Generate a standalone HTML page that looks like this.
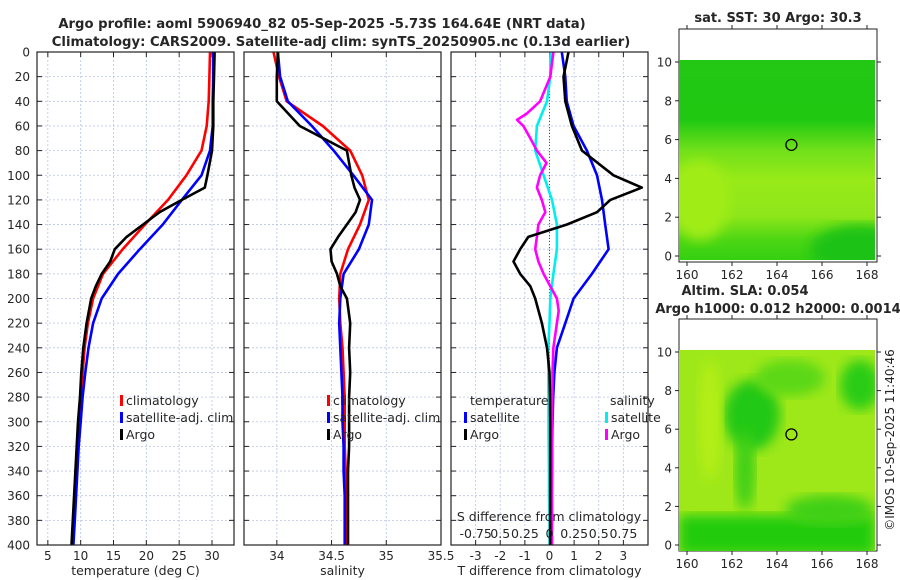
<!DOCTYPE html>
<html><head><meta charset="utf-8"><style>
html,body{margin:0;padding:0;background:#fff;overflow:hidden;}
svg{display:block;font-family:"DejaVu Sans","Liberation Sans",sans-serif;}
</style></head><body>
<svg id="fig" width="900" height="580" viewBox="0 0 900 580" xmlns="http://www.w3.org/2000/svg">
<defs>
<linearGradient id="sstGrad" x1="0" y1="0" x2="0" y2="1">
<stop offset="0" stop-color="#22c814"/><stop offset="0.3" stop-color="#20c812"/>
<stop offset="0.45" stop-color="#70e01a"/><stop offset="0.6" stop-color="#98ea18"/>
<stop offset="0.78" stop-color="#8ee61a"/><stop offset="0.9" stop-color="#4cd614"/>
<stop offset="1" stop-color="#34d012"/></linearGradient>
<filter id="blur"><feGaussianBlur stdDeviation="6"/></filter>
<clipPath id="clipTop"><rect x="679" y="60" width="196" height="200"/></clipPath>
<clipPath id="clipBot"><rect x="679" y="350" width="196" height="201"/></clipPath>
</defs>
<g id="layer"></g>
</svg>
<script>
// ---- data ----
const climDepth=[0,20,40,60,80,100,120,140,160,180,200,220,240,260,280,300,320,340,360,380,400];
const tempClim=[29.7,29.6,29.5,29.2,28.4,26.1,23.3,19.8,16.4,13.4,11.9,11.1,10.6,10.3,10.0,9.8,9.6,9.4,9.2,9.0,8.8];
const tempSat=[30.2,30.2,30.1,30.1,29.7,28.4,25.4,22.5,19.0,15.7,13.2,11.9,11.2,10.7,10.3,10.0,9.7,9.5,9.3,9.1,8.9];
const argoDepth=[0,20,40,60,80,100,110,120,130,140,150,160,170,180,190,200,220,240,260,280,300,320,340,360,380,400];
const tempArgo=[30.4,30.3,30.2,30.2,30.0,29.3,28.9,25.4,22.0,19.5,17.0,15.2,14.5,13.2,12.3,11.6,10.9,10.4,10.1,9.9,9.6,9.4,9.2,9.0,8.8,8.6];
const salClim=[33.97,34.02,34.09,34.42,34.67,34.78,34.84,34.76,34.65,34.58,34.57,34.58,34.60,34.61,34.62,34.62,34.62,34.63,34.63,34.63,34.63];
const salSat=[34.01,34.03,34.10,34.32,34.52,34.70,34.87,34.84,34.75,34.61,34.58,34.57,34.58,34.59,34.60,34.60,34.61,34.61,34.62,34.62,34.62];
const salArgo=[34.01,34.00,34.00,34.21,34.64,34.68,34.71,34.76,34.72,34.64,34.56,34.49,34.50,34.55,34.58,34.64,34.67,34.66,34.67,34.66,34.66,34.66,34.65,34.65,34.65,34.65];
const tDiffSat=[0.5,0.64,0.7,0.98,1.52,1.93,2.13,2.26,2.4,1.72,0.98,0.64,0.3,0.2,0.15,0.12,0.1,0.1,0.08,0.07,0.07];
const tDiffArgo=[0.77,0.57,0.64,0.91,1.32,2.6,3.75,2.47,1.93,0.71,-0.86,-1.19,-1.46,-1.19,-0.78,-0.58,-0.31,-0.1,0.0,0.02,0.03,0.03,0.03,0.03,0.03,0.03];
const sDiffSat=[0.01,0.008,-0.025,-0.128,-0.145,-0.06,0.025,0.075,0.075,0.04,0.008,0,-0.012,-0.012,-0.01,-0.01,-0.008,-0.005,-0.005,0,0];
const sDiffArgoDepth=[0,20,40,50,55,60,70,80,90,100,110,120,130,140,150,160,170,180,190,200,210,220,240,260,300,400];
const sDiffArgo=[0.04,0.008,-0.095,-0.23,-0.33,-0.265,-0.195,-0.128,-0.03,-0.095,-0.128,-0.078,-0.043,-0.113,-0.128,-0.145,-0.113,-0.06,0.008,0.075,0.093,0.075,0.04,0.03,0.025,0.025];
const depthTicks=[0,20,40,60,80,100,120,140,160,180,200,220,240,260,280,300,320,340,360,380,400];
const tempTicks=[5,10,15,20,25,30];
const salTicks=[34,34.5,35,35.5];
const tDiffTicks=[-3,-2,-1,0,1,2,3];
const sDiffTicks=[-0.75,-0.5,-0.25,0,0.25,0.5,0.75];
const sDiffTickLabels=["-0.75","0.5","0.25","0","0.25","0.5","0.75"];
const lonTicks=[160,162,164,166,168];
const latTicks=[0,2,4,6,8,10];
const argoLon=164.64, argoLat=5.73;

// ---- scales ----
const Y0=52,Y1=545;
const yD=d=>Y0+(d/400)*(Y1-Y0);
const panels={t:{x0:37,x1:234,lo:3.35,hi:33.35},s:{x0:244,x1:441,lo:33.70,hi:35.50},d:{x0:451,x1:648,lo:-4,hi:4}};
const xOf=(p,v)=>p.x0+(v-p.lo)/(p.hi-p.lo)*(p.x1-p.x0);
const xS=v=>xOf(panels.d,v*4);
const mapX=lon=>687+(lon-160)*22.5;
const topY=lat=>256-lat*19.4;
const botY=lat=>545-lat*19.3;

const NS="http://www.w3.org/2000/svg";
const layer=document.getElementById('layer');
function mk(tag,attrs,parent){const e=document.createElementNS(NS,tag);for(const k in attrs)e.setAttribute(k,attrs[k]);(parent||layer).appendChild(e);return e;}
function txt(s,x,y,size,anchor,weight,parent){const t=mk('text',{x:x,y:y,'font-size':size,'text-anchor':anchor||'middle','font-weight':weight||'normal',fill:'#262626'},parent);t.textContent=s;return t;}

let e;
e=txt("Argo profile: aoml 5906940_82 05-Sep-2025 -5.73S 164.64E (NRT data)",322,28,13.2,'middle','bold');


e=txt("Climatology: CARS2009. Satellite-adj clim: synTS_20250905.nc (0.13d earlier)",341,46,13.2,'middle','bold');



function panelFrame(p,name,ticks,fmt,xlabel){
  const g=mk('g',{});
  
  
  mk('rect',{x:p.x0,y:Y0,width:p.x1-p.x0,height:Y1-Y0,fill:'#fff'},g);
  depthTicks.forEach(d=>{const l=mk('line',{x1:p.x0,x2:p.x1,y1:yD(d),y2:yD(d),stroke:'#b8c4e8','stroke-width':0.8,'stroke-dasharray':'2,2'},g);
    
    
    mk('line',{x1:p.x0,x2:p.x0+5,y1:yD(d),y2:yD(d),stroke:'#222'},g);
    mk('line',{x1:p.x1-5,x2:p.x1,y1:yD(d),y2:yD(d),stroke:'#222'},g);});
  ticks.forEach(v=>{const x=xOf(p,v);const l=mk('line',{x1:x,x2:x,y1:Y0,y2:Y1,stroke:'#b8c4e8','stroke-width':0.8,'stroke-dasharray':'2,2'},g);
    
    
    mk('line',{x1:x,x2:x,y1:Y1,y2:Y1-5,stroke:'#222'},g);
    mk('line',{x1:x,x2:x,y1:Y0,y2:Y0+5,stroke:'#222'},g);
    const t=txt(fmt(v),x,560,12,'middle','normal',g);
    
    });
  const xl=txt(xlabel,(p.x0+p.x1)/2,575,12.5,'middle','normal',g);
  
  
  return g;
}
function frameBorder(p){const r=mk('rect',{x:p.x0,y:Y0,width:p.x1-p.x0,height:Y1-Y0,fill:'none',stroke:'#222','stroke-width':1.2});
  
  }
function line(xs,ds,fx,color,name){const pts=xs.map((v,i)=>fx(v).toFixed(1)+','+yD(ds[i]).toFixed(1)).join(' ');
  const pl=mk('polyline',{points:pts,fill:'none',stroke:color,'stroke-width':2.6,'stroke-linejoin':'round'});
  
  }
function legendEntry(x,y,color,label,name){const g=mk('g',{});
  
  
  mk('rect',{x:x,y:y-10,width:3,height:11,fill:color},g);txt(label,x+6,y,12.5,'start','normal',g);}

const pT=panels.t;
panelFrame(pT,'temperature',tempTicks,v=>String(v),'temperature (deg C)');
depthTicks.forEach(d=>{const t=txt(String(d),30,yD(d)+4.5,12,'end');
  
  });
line(tempClim,climDepth,v=>xOf(pT,v),'#ff0000','temp-climatology-line');
line(tempSat,climDepth,v=>xOf(pT,v),'#0000ff','temp-satellite-line');
line(tempArgo,argoDepth,v=>xOf(pT,v),'#000000','temp-argo-line');
frameBorder(pT);
legendEntry(120,405,'#ff0000','climatology','legend-climatology');
legendEntry(120,422,'#0000ff','satellite-adj. clim','legend-satellite');
legendEntry(120,439,'#000000','Argo','legend-argo');

const pS=panels.s;
panelFrame(pS,'salinity',salTicks,v=>String(v),'salinity');
line(salClim,climDepth,v=>xOf(pS,v),'#ff0000','sal-climatology-line');
line(salSat,climDepth,v=>xOf(pS,v),'#0000ff','sal-satellite-line');
line(salArgo,argoDepth,v=>xOf(pS,v),'#000000','sal-argo-line');
frameBorder(pS);
legendEntry(327,405,'#ff0000','climatology','legend-sal-climatology');
legendEntry(327,422,'#0000ff','satellite-adj. clim','legend-sal-satellite');
legendEntry(327,439,'#000000','Argo','legend-sal-argo');

const pD=panels.d;
panelFrame(pD,'difference',tDiffTicks,v=>String(v),'T difference from climatology');
e=mk('line',{x1:xOf(pD,0),x2:xOf(pD,0),y1:Y0,y2:Y1,stroke:'#555','stroke-width':1,'stroke-dasharray':'1,2'});


line(tDiffSat,climDepth,v=>xOf(pD,v),'#0000ff','tdiff-satellite-line');
line(sDiffSat,climDepth,xS,'#00eeee','sdiff-satellite-line');
line(sDiffArgo,sDiffArgoDepth,xS,'#ff00ff','sdiff-argo-line');
line(tDiffArgo,argoDepth,v=>xOf(pD,v),'#000000','tdiff-argo-line');
frameBorder(pD);
e=txt('temperature',470,405,12.5,'start');


e=txt('salinity',610,405,12.5,'start');


legendEntry(464,422,'#0000ff','satellite','legend-t-satellite');
legendEntry(464,439,'#000000','Argo','legend-t-argo');
legendEntry(605,422,'#00eeee','satellite','legend-s-satellite');
legendEntry(605,439,'#ff00ff','Argo','legend-s-argo');
e=txt('S difference from climatology',549,521,12.5,'middle');


sDiffTicks.forEach((v,i)=>{const t=txt(sDiffTickLabels[i],xS(v),538,12.5,'middle');
  
  });

function mapFrame(y0,y1,yfn,name,title,titleY){
  const g=mk('g',{});
  
  
  mk('rect',{x:679,y:y0,width:198,height:y1-y0,fill:'#fff',stroke:'#222','stroke-width':1},g);
  lonTicks.forEach(v=>{const x=mapX(v);mk('line',{x1:x,x2:x,y1:y1,y2:y1+4,stroke:'#222'},g);mk('line',{x1:x,x2:x,y1:y0,y2:y0-4,stroke:'#222'},g);
    const t=txt(String(v),x,y1+17,12,'middle','normal',g);
    
    });
  latTicks.forEach(v=>{const y=yfn(v);mk('line',{x1:679,x2:675,y1:y,y2:y,stroke:'#222'},g);mk('line',{x1:877,x2:881,y1:y,y2:y,stroke:'#222'},g);
    const t=txt(String(v),672,y+4.5,12,'end','normal',g);
    
    });
  const tt=txt(title,778,titleY,13,'middle','bold');
  
  
  return g;
}
mapFrame(29,262,topY,'sst-map','sat. SST: 30 Argo: 30.3',22);
const ct=mk('g',{'clip-path':'url(#clipTop)'});
mk('rect',{x:679,y:60,width:196,height:200,fill:'url(#sstGrad)'},ct);
mk('ellipse',{cx:860,cy:250,rx:50,ry:25,fill:'#1ec214',filter:'url(#blur)'},ct);
mk('ellipse',{cx:700,cy:200,rx:30,ry:40,fill:'#a0ec18',filter:'url(#blur)'},ct);
e=mk('circle',{cx:mapX(argoLon),cy:topY(argoLat),r:5.5,fill:'none',stroke:'#000','stroke-width':1.3});


e=txt('Altim. SLA: 0.054',745,295,13,'middle','bold');


mapFrame(319,551,botY,'sla-map','Argo h1000: 0.012 h2000: 0.0014',313);
const cb=mk('g',{'clip-path':'url(#clipBot)'});
mk('rect',{x:679,y:350,width:196,height:201,fill:'#9ee81a'},cb);
mk('rect',{x:679,y:515,width:196,height:40,fill:'#22cc10',filter:'url(#blur)'},cb);
mk('ellipse',{cx:752,cy:415,rx:28,ry:35,fill:'#22c812',filter:'url(#blur)'},cb);
mk('ellipse',{cx:745,cy:470,rx:10,ry:40,fill:'#3ccf12',filter:'url(#blur)'},cb);
mk('ellipse',{cx:860,cy:385,rx:20,ry:25,fill:'#2ccc12',filter:'url(#blur)'},cb);
mk('ellipse',{cx:790,cy:378,rx:35,ry:18,fill:'#5cd816',filter:'url(#blur)'},cb);
mk('ellipse',{cx:710,cy:420,rx:12,ry:60,fill:'#b4ee18',filter:'url(#blur)'},cb);
mk('ellipse',{cx:830,cy:510,rx:45,ry:15,fill:'#40d014',filter:'url(#blur)'},cb);
e=mk('circle',{cx:mapX(argoLon),cy:botY(argoLat),r:5.5,fill:'none',stroke:'#000','stroke-width':1.3});


e=txt('©IMOS 10-Sep-2025 11:40:46',0,0,12,'middle');
e.setAttribute('transform','translate(894,440) rotate(-90)');


</script>
</body></html>
